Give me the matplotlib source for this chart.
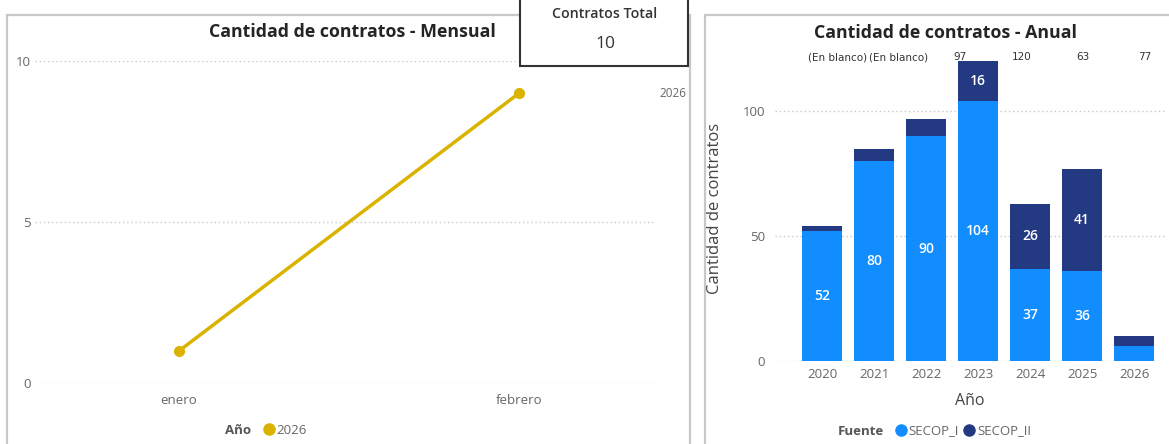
import matplotlib.pyplot as plt
from matplotlib.lines import Line2D
from matplotlib.patches import Rectangle
import numpy as np

plt.rcParams['font.family'] = ['Open Sans', 'DejaVu Sans']

# monthly line chart
meses = ['enero', 'febrero']
contratos_mes = [1, 9]
serie_mes = '2026'

# yearly stacked bars
anios = ['2020', '2021', '2022', '2023', '2024', '2025', '2026']
secop_i = [52, 80, 90, 104, 37, 36, 6]
secop_ii = [2, 5, 7, 16, 26, 41, 4]
etiquetas_total = ['(En blanco)', '(En blanco)', '97', '120', '63', '77']

total_contratos = 10

W, H = 1169, 444
AMARILLO = '#D9B300'
AZUL = '#118DFF'
AZUL_OSC = '#233A82'
GRIS = '#666666'


def px(x0, y0, x1, y1):
    # pixel box (top-left origin) -> figure fraction
    return [x0 / W, 1 - y1 / H, (x1 - x0) / W, (y1 - y0) / H]


def fx(x):
    return x / W


def fy(y):
    return 1 - y / H


fig = plt.figure(figsize=(W / 100, H / 100), dpi=100)

# panel borders
fig.patches.append(Rectangle((fx(7), fy(450)), fx(690) - fx(7), fy(15) - fy(450),
                             transform=fig.transFigure, fill=False,
                             edgecolor='#c8c8c8', lw=1.6))
fig.patches.append(Rectangle((fx(705), fy(450)), fx(1175) - fx(705), fy(15) - fy(450),
                             transform=fig.transFigure, fill=False,
                             edgecolor='#c8c8c8', lw=1.6))

# ---- left: monthly line ----
ax1 = fig.add_axes(px(35, 61, 655, 383))
x = np.arange(len(meses))
ax1.plot(x, contratos_mes, color=AMARILLO, lw=2.5, marker='o', ms=7, zorder=3)
ax1.set_xlim(-0.424, 1.4)
ax1.set_ylim(0, 10)
ax1.set_yticks([0, 5, 10])
ax1.set_xticks(x)
ax1.set_xticklabels(meses)
ax1.grid(axis='y', linestyle=(0, (1, 2)), color='#c8c8c8', lw=1)
ax1.set_axisbelow(True)
for s in ax1.spines.values():
    s.set_visible(False)
ax1.tick_params(length=0, colors=GRIS, labelsize=9.5)
ax1.tick_params(axis='y', pad=3)
ax1.tick_params(axis='x', pad=8)
ax1.annotate(serie_mes, xy=(x[-1], contratos_mes[-1]), xytext=(101, 0),
             textcoords='offset points', color=GRIS, fontsize=8.5,
             va='center', ha='left', annotation_clip=False)
fig.text(fx(352), fy(32), 'Cantidad de contratos - Mensual', ha='center',
         va='center', fontsize=12.8, fontweight='bold', color='#252423')

fig.text(fx(251), fy(430), 'Año', ha='right', va='center', fontsize=9.5,
         fontweight='bold', color='#555555')
h1 = [Line2D([], [], color=AMARILLO, marker='o', ls='', ms=8)]
fig.legend(h1, [serie_mes], loc='center left', bbox_to_anchor=(fx(254), fy(430)),
           frameon=False, handletextpad=0.0, fontsize=9.5, labelcolor=GRIS,
           borderpad=0, handlelength=1.2)

# card
card = Rectangle((fx(520), fy(66)), fx(688) - fx(520), fy(-5) - fy(66),
                 transform=fig.transFigure, facecolor='white',
                 edgecolor='#333333', lw=1.5, zorder=5)
fig.patches.append(card)
fig.text(fx(605), fy(14), 'Contratos Total', ha='center', va='center',
         fontsize=10.2, fontweight='semibold', color='#333333', zorder=6)
fig.text(fx(605), fy(44), str(total_contratos), ha='center', va='center',
         fontsize=12.5, color='#333333', zorder=6)

# ---- right: yearly stacked bars ----
ax2 = fig.add_axes(px(775, 50, 1165, 361))
xb = np.arange(len(anios))
ax2.bar(xb, secop_i, width=0.78, color=AZUL, label='SECOP_I', zorder=2)
ax2.bar(xb, secop_ii, width=0.78, bottom=secop_i, color=AZUL_OSC,
        label='SECOP_II', zorder=2)
for i in range(len(anios)):
    if secop_i[i] >= 10:
        ax2.text(xb[i], secop_i[i] / 2, str(secop_i[i]), ha='center', va='center',
                 color='white', fontsize=10, fontweight='semibold', zorder=3)
    if secop_ii[i] >= 10:
        ax2.text(xb[i], secop_i[i] + secop_ii[i] / 2, str(secop_ii[i]), ha='center',
                 va='center', color='white', fontsize=10, fontweight='semibold',
                 zorder=3)
# misplaced total labels as they appear in the report
for i, lab in enumerate(etiquetas_total):
    ax2.text(0.3 + i * 1.18, 0.977, lab, transform=ax2.get_xaxis_transform(),
             ha='center', va='center', fontsize=7.5, color='#333333',
             fontfamily='DejaVu Sans', clip_on=False)
ax2.set_xlim(-0.904, 6.596)
ax2.set_ylim(0, 124.4)
ax2.set_yticks([0, 50, 100])
ax2.set_xticks(xb)
ax2.set_xticklabels(anios)
ax2.grid(axis='y', linestyle=(0, (1, 2)), color='#c8c8c8', lw=1)
ax2.set_axisbelow(True)
for s in ax2.spines.values():
    s.set_visible(False)
ax2.tick_params(length=0, colors=GRIS, labelsize=9.5)
ax2.tick_params(axis='y', pad=7)
ax2.tick_params(axis='x', pad=5)
ax2.set_xlabel('Año', fontsize=11.5, color='#444444', labelpad=9)
ax2.set_ylabel('Cantidad de contratos', fontsize=12, color='#444444')
ax2.yaxis.set_label_coords((723 - 775) / 390, (361 - 208) / 311)
fig.text(fx(945), fy(33), 'Cantidad de contratos - Anual', ha='center',
         va='center', fontsize=12.8, fontweight='bold', color='#252423')

fig.text(fx(884), fy(431), 'Fuente', ha='right', va='center', fontsize=9.5,
         fontweight='bold', color='#555555')
h2 = [Line2D([], [], color=AZUL, marker='o', ls='', ms=8),
      Line2D([], [], color=AZUL_OSC, marker='o', ls='', ms=8)]
fig.legend(h2, ['SECOP_I', 'SECOP_II'], loc='center left',
           bbox_to_anchor=(fx(886), fy(431)), frameon=False, ncol=2,
           handletextpad=0.0, columnspacing=0.2, fontsize=9.5, labelcolor=GRIS,
           borderpad=0, handlelength=1.2)

fig.savefig('out.png', dpi=100, facecolor='white')
